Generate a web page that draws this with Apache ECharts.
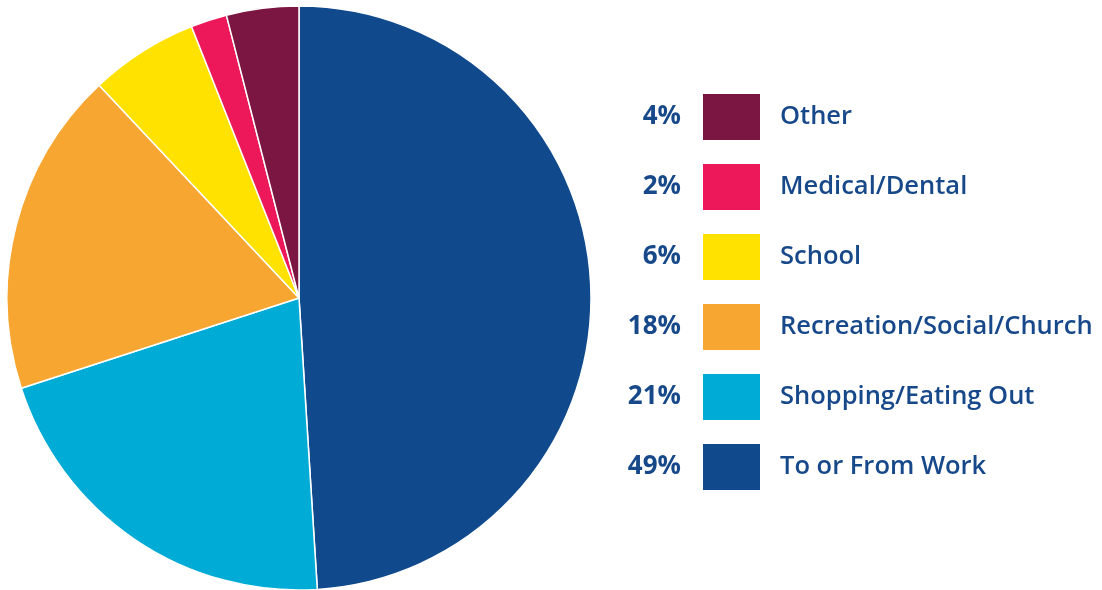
<!DOCTYPE html>
<html><head><meta charset="utf-8">
<script src="https://cdn.jsdelivr.net/npm/echarts@6/dist/echarts.min.js"></script>
<style>html,body{margin:0;padding:0;background:#fff}#c{width:1102px;height:590px}</style>
</head><body><div id="c"></div>
<script>
// Data (pie order: clockwise from 12 o'clock)
const categories = ["To or From Work", "Shopping/Eating Out", "Recreation/Social/Church", "School", "Medical/Dental", "Other"];
const values = [49, 21, 18, 6, 2, 4];
const colors = ["#114A8C", "#00ACD5", "#F8A632", "#FFE200", "#EC185A", "#7A1641"];
// Legend order (top to bottom)
const legendOrder = ["Other", "Medical/Dental", "School", "Recreation/Social/Church", "Shopping/Eating Out", "To or From Work"];

const textColor = "#17498A";
const fontFamily = "'Open Sans', 'DejaVu Sans', sans-serif";
const legendTop = 94, rowStep = 70, iconH = 46, iconW = 57, legendLeft = 703;

const chart = echarts.init(document.getElementById('c'), null, {renderer: 'canvas'});
const pctTexts = legendOrder.map((name, i) => ({
  type: 'text',
  x: 681,
  y: legendTop + i * rowStep + iconH / 2,
  style: {
    text: values[categories.indexOf(name)] + '%',
    fill: textColor,
    font: "700 26px " + fontFamily,
    textAlign: 'right',
    textVerticalAlign: 'middle'
  }
}));
chart.setOption({
  animation: false,
  legend: {
    orient: 'vertical',
    left: legendLeft,
    top: legendTop,
    padding: 0,
    data: legendOrder,
    icon: 'rect',
    itemWidth: iconW,
    itemHeight: iconH,
    itemGap: rowStep - iconH,
    itemStyle: {borderWidth: 0},
    selectedMode: false,
    textStyle: {
      color: textColor,
      fontSize: 25.5,
      fontWeight: 600,
      fontFamily: fontFamily,
      padding: [0, 0, 0, 15]
    }
  },
  graphic: pctTexts,
  series: [{
    type: 'pie',
    center: [299, 298],
    radius: [0, 292],
    startAngle: 90,
    clockwise: true,
    label: {show: false},
    labelLine: {show: false},
    emphasis: {disabled: true},
    itemStyle: {borderColor: '#fff', borderWidth: 1.5},
    data: categories.map((c, i) => ({name: c, value: values[i], itemStyle: {color: colors[i]}}))
  }]
});
</script></body></html>
